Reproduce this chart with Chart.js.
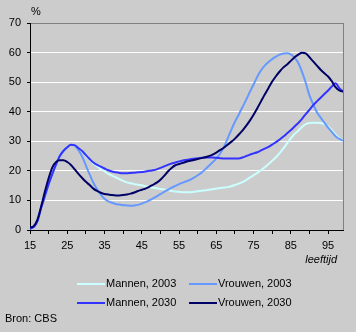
<!DOCTYPE html>
<html>
<head>
<meta charset="utf-8">
<script src="https://cdn.jsdelivr.net/npm/chart.js@4/dist/chart.umd.min.js"></script>
<style>
  html, body { margin: 0; padding: 0; background: #cccccc; }
  canvas { display: block; }
</style>
</head>
<body>
<canvas id="grafiek" width="356" height="332"></canvas>
<script>
// Leeftijden 15 t/m 99
const leeftijd = [15,16,17,18,19,20,21,22,23,24,25,26,27,28,29,30,31,32,33,34,35,36,37,38,39,40,41,42,43,44,45,46,47,48,49,50,51,52,53,54,55,56,57,58,59,60,61,62,63,64,65,66,67,68,69,70,71,72,73,74,75,76,77,78,79,80,81,82,83,84,85,86,87,88,89,90,91,92,93,94,95,96,97,98,99];

const mannen2003 = [0.5,1,3,7.5,11.5,15.5,19,22.2,25,26.8,28,28.8,28.7,27.7,26.5,25,23.8,22.5,21.6,20.6,19.8,19,18.4,17.8,17.2,16.6,16.1,15.8,15.5,15.3,15.1,14.8,14.5,14.3,14.1,13.9,13.7,13.5,13.2,13,12.9,12.8,12.8,12.8,12.9,13.1,13.3,13.4,13.6,13.8,14,14.2,14.3,14.5,14.8,15.2,15.7,16.2,16.9,17.7,18.5,19.3,20.2,21.2,22.3,23.4,24.6,26,27.6,29.3,31,32.5,33.6,34.8,35.8,36.2,36.3,36.3,36.2,35.8,35,33.8,32.2,31,30.2];

const vrouwen2003 = [0.5,1,3,7.5,11.5,15.5,19,22.2,25,26.8,28,28.8,28.5,27,24.8,21.8,18.8,16,13.8,12,10.6,9.7,9.2,8.8,8.6,8.4,8.3,8.2,8.3,8.5,8.9,9.4,10,10.7,11.4,12.1,12.9,13.6,14.3,14.9,15.5,16,16.5,17,17.7,18.5,19.4,20.5,21.7,22.9,24.2,25.8,28,30.8,33.8,36.6,39,41.5,44,46.7,49.2,51.8,54,55.6,56.8,57.8,58.6,59.3,59.7,59.8,59.4,58.3,56.5,53.5,49.8,45.5,42.5,39.8,38,36.3,34.6,33.2,31.7,30.8,30.2];

const mannen2030 = [0.5,1,3,7.5,11.5,15.5,19,22.2,25,26.8,28,28.8,28.7,27.7,26.7,25.3,24,22.8,22,21.4,20.8,20.2,19.8,19.5,19.3,19.2,19.2,19.3,19.4,19.5,19.6,19.8,20,20.2,20.5,21,21.5,22,22.5,22.8,23.2,23.5,23.7,23.9,24.1,24.3,24.4,24.5,24.5,24.5,24.4,24.3,24.2,24.2,24.2,24.2,24.2,24.5,25,25.5,25.9,26.3,26.9,27.5,28.1,28.9,29.7,30.6,31.6,32.7,33.8,35,36.2,37.6,39.2,40.6,42.2,43.5,44.7,46,47.2,48.5,49.6,48,46.8];

const vrouwen2030 = [0.8,1.3,3.5,8,13,17.5,21.2,23,23.6,23.6,23,22,20.5,19,17.6,16.3,15.2,14,13.2,12.6,12.2,12,11.8,11.7,11.7,11.8,12,12.3,12.7,13.2,13.6,14,14.6,15.3,16,17,18.3,19.8,21,21.9,22.3,22.7,23.1,23.4,23.7,24,24.3,24.6,25,25.5,26.2,27,27.8,28.8,29.8,30.9,32.2,33.6,35.2,37,39,41.2,43.5,45.8,48,50.2,52,53.6,55,56,57.2,58.4,59.3,59.9,59.7,58.4,57,55.6,54.2,53,51.9,50.3,48.3,47.2,46.8];

const reeksNamen = ['Mannen, 2003', 'Vrouwen, 2003', 'Mannen, 2030', 'Vrouwen, 2030'];
const reeksKleuren = ['#ccffff', '#6699ff', '#3333ff', '#000066'];
const xTicks = [15,20,25,30,35,40,45,50,55,60,65,70,75,80,85,90,95];
const xLabels = [15,25,35,45,55,65,75,85,95];
const yMax = 70;

const lettertype = 'Liberation Sans, Arial, sans-serif';

function punten(waarden) {
  return leeftijd.map((l, i) => ({ x: l, y: waarden[i] }));
}

// tekst, legenda en kaderrand rond het grafiekgebied
const extraTekst = {
  id: 'extraTekst',
  afterDraw(chart) {
    const c = chart.ctx;
    const a = chart.chartArea;
    c.save();
    // rechterrand in grijs
    c.strokeStyle = '#808080';
    c.lineWidth = 1;
    c.beginPath();
    c.moveTo(Math.round(a.right) + 0.5, a.top);
    c.lineTo(Math.round(a.right) + 0.5, a.bottom);
    c.stroke();

    c.fillStyle = '#000';
    c.font = '11px ' + lettertype;
    c.textBaseline = 'middle';
    c.textAlign = 'left';
    c.fillText('%', 31, 12);

    c.font = 'italic 11px ' + lettertype;
    c.textAlign = 'right';
    c.fillText('leeftijd', 337, 260);

    // legenda
    const kolX = [77, 189];
    const rijY = [284, 303];
    c.font = '11px ' + lettertype;
    c.textAlign = 'left';
    reeksNamen.forEach((naam, i) => {
      const x = kolX[i % 2];
      const y = rijY[Math.floor(i / 2)];
      c.strokeStyle = reeksKleuren[i];
      c.lineWidth = 2;
      c.beginPath();
      c.moveTo(x, y);
      c.lineTo(x + 28, y);
      c.stroke();
      c.fillStyle = '#000';
      c.fillText(naam, x + 29, y);
    });

    c.fillText('Bron: CBS', 5, 319);
    c.restore();
  }
};

const reeksen = [mannen2003, vrouwen2003, mannen2030, vrouwen2030];

new Chart(document.getElementById('grafiek'), {
  type: 'line',
  data: {
    datasets: reeksen.map((w, i) => ({
      label: reeksNamen[i],
      data: punten(w),
      borderColor: reeksKleuren[i],
      backgroundColor: reeksKleuren[i],
      borderWidth: 2,
      pointRadius: 0,
      cubicInterpolationMode: 'monotone',
      order: 3 - i
    }))
  },
  options: {
    responsive: false,
    animation: false,
    layout: { padding: { left: 0, top: 23, right: 13, bottom: 0 } },
    plugins: {
      legend: { display: false },
      tooltip: { enabled: false }
    },
    scales: {
      x: {
        type: 'linear',
        min: 15,
        max: 99,
        afterFit: s => { s.height = 102; },
        afterBuildTicks: s => { s.ticks = xTicks.map(v => ({ value: v })); },
        grid: {
          drawOnChartArea: false,
          tickLength: 4,
          tickColor: '#000'
        },
        border: { color: '#000', width: 1 },
        ticks: {
          color: '#000',
          font: { family: lettertype, size: 11 },
          padding: 5,
          maxRotation: 0,
          autoSkip: false,
          callback: v => xLabels.includes(v) ? String(v) : ''
        }
      },
      y: {
        min: 0,
        max: yMax,
        afterFit: s => { s.width = 30; },
        grid: {
          color: ctx => ctx.tick.value === 0 ? 'rgba(0,0,0,0)' : (ctx.tick.value === yMax ? '#808080' : '#ffffff'),
          lineWidth: 1,
          tickLength: 3,
          tickColor: '#000'
        },
        border: { color: '#000', width: 1 },
        ticks: {
          stepSize: 10,
          color: '#000',
          font: { family: lettertype, size: 11 },
          padding: 6
        }
      }
    }
  },
  plugins: [extraTekst]
});
</script>
</body>
</html>
